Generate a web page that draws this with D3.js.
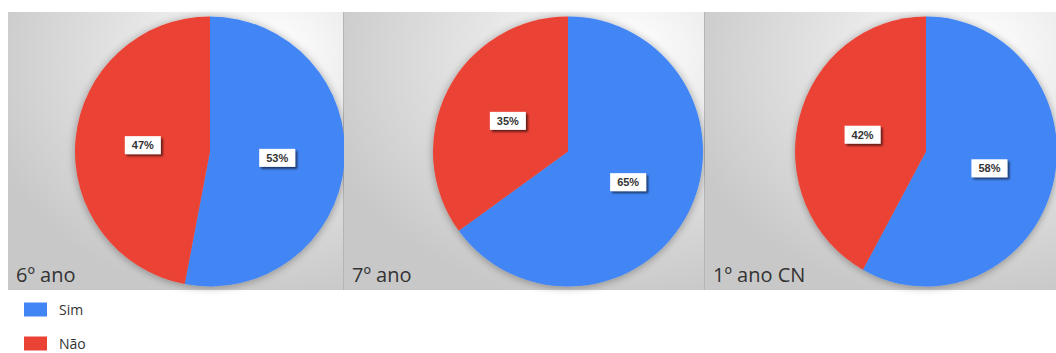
<!DOCTYPE html>
<html>
<head>
<meta charset="utf-8">
<script src="https://cdn.jsdelivr.net/npm/d3@7"></script>
<style>
  html, body { margin: 0; padding: 0; background: #fff; }
  svg { display: block; }
</style>
</head>
<body>
<svg id="chart" width="1056" height="353"></svg>
<script>
const panels = ["6º ano", "7º ano", "1º ano CN"];
const categories = ["Sim", "Não"];
const simValues = [53, 65, 58];
const naoValues = [47, 35, 42];
const colors = ["#4285F4", "#EA4335"];

const svg = d3.select("#chart");
const defs = svg.append("defs");

const grad = defs.append("radialGradient")
  .attr("id", "bg").attr("cx", "0.75").attr("cy", "0.2").attr("r", "0.85")
  .attr("fx", "0.78").attr("fy", "0.12");
grad.append("stop").attr("offset", "0").attr("stop-color", "#ffffff");
grad.append("stop").attr("offset", "0.45").attr("stop-color", "#e6e6e6");
grad.append("stop").attr("offset", "1").attr("stop-color", "#c8c8c8");

const pieShadow = defs.append("filter").attr("id", "pieShadow")
  .attr("x", "-20%").attr("y", "-20%").attr("width", "140%").attr("height", "140%");
pieShadow.append("feGaussianBlur").attr("in", "SourceAlpha").attr("stdDeviation", 4);
pieShadow.append("feOffset").attr("dx", 0).attr("dy", 1).attr("result", "b");
pieShadow.append("feComponentTransfer").append("feFuncA").attr("type", "linear").attr("slope", 0.35);
const m1 = pieShadow.append("feMerge");
m1.append("feMergeNode");
m1.append("feMergeNode").attr("in", "SourceGraphic");

const boxShadow = defs.append("filter").attr("id", "boxShadow")
  .attr("x", "-30%").attr("y", "-30%").attr("width", "170%").attr("height", "190%");
boxShadow.append("feGaussianBlur").attr("in", "SourceAlpha").attr("stdDeviation", 1.2);
boxShadow.append("feOffset").attr("dx", 2).attr("dy", 2);
boxShadow.append("feComponentTransfer").append("feFuncA").attr("type", "linear").attr("slope", 0.6);
const m2 = boxShadow.append("feMerge");
m2.append("feMergeNode");
m2.append("feMergeNode").attr("in", "SourceGraphic");

const clip = defs.append("clipPath").attr("id", "pageClip");
clip.append("rect").attr("x", 0).attr("y", 0).attr("width", 1056).attr("height", 353);

// panel layout
const panelX = d3.scaleOrdinal().domain(panels).range([8, 344, 705]);
const panelW = d3.scaleOrdinal().domain(panels).range([336, 361, 351]);
const centerX = d3.scaleOrdinal().domain(panels).range([210, 568, 926]);
const scaleXP = d3.scaleOrdinal().domain(panels).range([1, 1, 0.97]);
const panelTop = 12, panelBottom = 290;
const cy = 151.5, radius = 135;

const pie = d3.pie().sort(null).value(d => d.value);
const arc = d3.arc().innerRadius(0).outerRadius(radius);
const labelArc = d3.arc().innerRadius(radius * 0.5).outerRadius(radius * 0.5);

panels.forEach((p, i) => {
  const g = svg.append("g").attr("clip-path", "url(#pageClip)");
  g.append("rect")
    .attr("x", panelX(p)).attr("y", panelTop)
    .attr("width", panelW(p)).attr("height", panelBottom - panelTop)
    .attr("fill", "url(#bg)");
  if (i < panels.length - 1) {
    g.append("line")
      .attr("x1", panelX(p) + panelW(p) - 0.5).attr("x2", panelX(p) + panelW(p) - 0.5)
      .attr("y1", panelTop).attr("y2", panelBottom)
      .attr("stroke", "#b5b5b5").attr("stroke-width", 1);
  }
  const data = [
    { cat: categories[0], value: simValues[i] },
    { cat: categories[1], value: naoValues[i] }
  ];
  const arcs = pie(data);
  const pg = g.append("g").attr("transform", `translate(${centerX(p)},${cy})`);
  const slices = pg.append("g").attr("filter", "url(#pieShadow)")
    .attr("transform", `scale(${scaleXP(p)},1)`);
  slices.selectAll("path").data(arcs).join("path")
    .attr("d", arc)
    .attr("fill", (d, j) => colors[j]);

  const lab = pg.selectAll("g.lab").data(arcs).join("g").attr("class", "lab")
    .attr("transform", d => {
      const c = labelArc.centroid(d);
      return `translate(${c[0] * scaleXP(p)},${c[1]})`;
    });
  lab.append("rect")
    .attr("x", -18).attr("y", -9).attr("width", 36).attr("height", 18)
    .attr("fill", "#ffffff").attr("filter", "url(#boxShadow)");
  lab.append("text")
    .attr("text-anchor", "middle").attr("dy", "0.36em")
    .attr("font-family", "Liberation Sans, Arial, sans-serif")
    .attr("font-size", 11).attr("font-weight", "bold")
    .attr("fill", "#333")
    .text(d => d.data.value + "%");

  g.append("text")
    .attr("x", panelX(p) + 8).attr("y", 282)
    .attr("font-family", "Open Sans, sans-serif")
    .attr("font-size", 20)
    .attr("fill", "#333")
    .text(p);
});

// legend
const legendY = d3.scalePoint().domain(categories).range([309.5, 343.5]);
const leg = svg.append("g");
categories.forEach((c, j) => {
  leg.append("rect")
    .attr("x", 24).attr("y", legendY(c) - 7)
    .attr("width", 23).attr("height", 14)
    .attr("fill", colors[j]);
  leg.append("text")
    .attr("x", 59).attr("y", legendY(c)).attr("dy", "0.36em")
    .attr("font-family", "Open Sans, sans-serif")
    .attr("font-size", 14).attr("fill", "#333")
    .text(c);
});
</script>
</body>
</html>
